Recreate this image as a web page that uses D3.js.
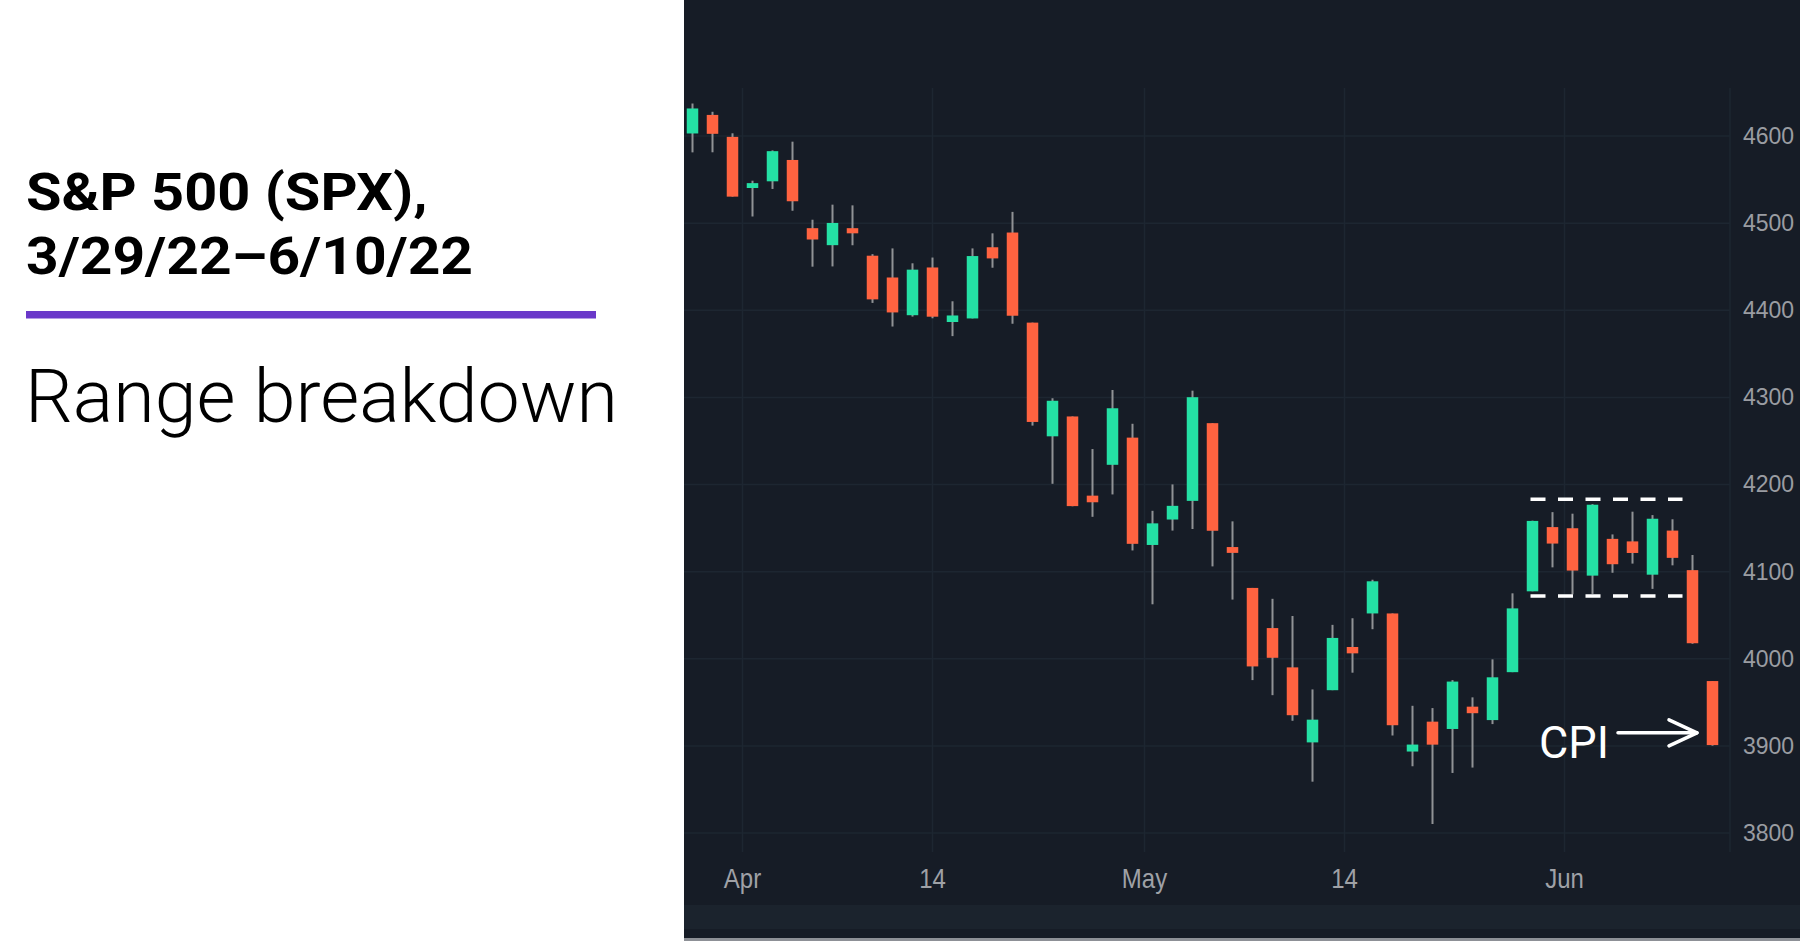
<!DOCTYPE html>
<html>
<head>
<meta charset="utf-8">
<script src="https://cdn.jsdelivr.net/npm/d3@7"></script>
<style>
  html, body { margin: 0; padding: 0; background: #ffffff; }
  svg { display: block; }
</style>
</head>
<body>
<svg id="chart" width="1800" height="941"></svg>
<script>
// ---- data (S&P 500 daily candles, 3/29/22 – 6/10/22) ----
const dates = [
  "2022-03-29","2022-03-30","2022-03-31",
  "2022-04-01","2022-04-04","2022-04-05","2022-04-06","2022-04-07","2022-04-08",
  "2022-04-11","2022-04-12","2022-04-13","2022-04-14","2022-04-18","2022-04-19",
  "2022-04-20","2022-04-21","2022-04-22","2022-04-25","2022-04-26","2022-04-27",
  "2022-04-28","2022-04-29",
  "2022-05-02","2022-05-03","2022-05-04","2022-05-05","2022-05-06","2022-05-09",
  "2022-05-10","2022-05-11","2022-05-12","2022-05-13","2022-05-16","2022-05-17",
  "2022-05-18","2022-05-19","2022-05-20","2022-05-23","2022-05-24","2022-05-25",
  "2022-05-26","2022-05-27","2022-05-31",
  "2022-06-01","2022-06-02","2022-06-03","2022-06-06","2022-06-07","2022-06-08",
  "2022-06-09","2022-06-10"
];
const openP = [
  4602.9, 4624.2, 4599.0,
  4540.3, 4548.0, 4572.5, 4494.2, 4474.7, 4494.2,
  4462.6, 4437.6, 4394.3, 4449.1, 4386.5, 4390.6,
  4472.3, 4489.2, 4385.8, 4255.3, 4278.1, 4187.2,
  4222.6, 4253.8,
  4130.6, 4159.8, 4181.2, 4270.4, 4128.2, 4081.3,
  4035.2, 3990.1, 3904.0, 3963.9, 4013.5, 4052.0,
  4052.0, 3893.5, 3927.8, 3919.4, 3945.0, 3929.6,
  3984.6, 4077.4, 4151.1,
  4149.8, 4095.4, 4137.6, 4134.7, 4096.5, 4147.1,
  4101.7, 3974.4
];
const highP = [
  4637.3, 4627.8, 4603.1,
  4548.7, 4583.5, 4593.5, 4503.9, 4521.2, 4520.4,
  4464.4, 4471.0, 4453.9, 4460.5, 4410.3, 4471.0,
  4488.3, 4512.9, 4385.8, 4299.0, 4278.1, 4240.7,
  4308.5, 4269.7,
  4169.8, 4200.1, 4307.7, 4270.4, 4157.7, 4081.3,
  4068.8, 4049.1, 3964.8, 4038.9, 4046.5, 4090.7,
  4052.0, 3946.0, 3943.4, 3975.5, 3955.7, 3999.3,
  4075.1, 4158.5, 4168.3,
  4166.5, 4177.5, 4142.7, 4168.8, 4164.9, 4160.1,
  4119.1, 3974.4
];
const lowP = [
  4581.2, 4581.3, 4530.4,
  4507.6, 4539.2, 4514.2, 4450.0, 4450.3, 4474.6,
  4408.4, 4381.3, 4392.7, 4390.8, 4370.3, 4390.6,
  4448.8, 4384.5, 4267.6, 4200.8, 4175.0, 4162.9,
  4188.6, 4124.3,
  4062.5, 4147.1, 4148.9, 4106.0, 4067.9, 3975.5,
  3958.2, 3928.8, 3858.9, 3963.9, 3984.0, 4033.9,
  3911.9, 3876.6, 3810.3, 3868.9, 3875.1, 3925.0,
  3984.6, 4077.4, 4104.9,
  4073.9, 4074.4, 4098.7, 4109.2, 4080.2, 4107.2,
  4017.2, 3900.2
];
const closeP = [
  4631.6, 4602.5, 4530.4,
  4545.9, 4582.6, 4525.1, 4481.2, 4500.2, 4488.3,
  4412.5, 4397.5, 4446.6, 4392.6, 4394.0, 4462.2,
  4459.5, 4393.7, 4271.8, 4296.1, 4175.2, 4179.6,
  4287.5, 4131.9,
  4155.4, 4175.5, 4300.2, 4146.9, 4121.5, 3991.2,
  4001.1, 3935.2, 3930.1, 4023.9, 4006.2, 4088.9,
  3923.7, 3901.5, 3901.4, 3973.8, 3937.5, 3978.7,
  4057.8, 4158.2, 4132.2,
  4101.2, 4176.8, 4108.5, 4121.4, 4160.7, 4115.8,
  4017.8, 3900.9
];

// axis ticks
const yTicks = [3800, 3900, 4000, 4100, 4200, 4300, 4400, 4500, 4600];
const xTickLabels = ["Apr", "14", "May", "14", "Jun"];
const xTickAt = [2.5, 12, 22.6, 32.6, 43.6];   // position in bar-index units

// annotations
const rangeTop = 4183, rangeBottom = 4072;
const rangeFrom = 41.9, rangeTo = 49.5;          // bar-index units
const cpiLabel = "CPI";

const titleLines = ["S&P 500 (SPX),", "3/29/22\u20136/10/22"];
const subtitle = "Range breakdown";

// ---- layout ----
const W = 1800, H = 941;
const panelX = 684;
const plot = { left: 684, right: 1730, top: 88, bottom: 852 };
const titleStretch = [1.11, 1.095];

const svg = d3.select("#chart");

// left white area + title
svg.append("rect").attr("x", 0).attr("y", 0).attr("width", panelX).attr("height", H).attr("fill", "#ffffff");

svg.append("g").selectAll("text").data(titleLines).join("text")
  .attr("transform", (d, i) => `translate(26,${210 + i * 64}) scale(${titleStretch[i]},1)`)
  .attr("font-family", "Roboto, 'Noto Sans', sans-serif")
  .attr("font-weight", 700).attr("font-size", 52)
  .attr("fill", "#000000")
  .text(d => d);

svg.append("rect").attr("x", 26).attr("y", 311).attr("width", 570).attr("height", 7.5).attr("fill", "#6a38c9");

svg.append("text")
  .attr("transform", "translate(25,422) scale(1.018,1)")
  .attr("font-family", "Roboto, 'Noto Sans', sans-serif")
  .attr("font-weight", 300).attr("font-size", 74)
  .attr("fill", "#000000")
  .text(subtitle);

// dark chart panel
svg.append("rect").attr("x", panelX).attr("y", 0).attr("width", W - panelX).attr("height", H).attr("fill", "#161c26");
svg.append("rect").attr("x", panelX).attr("y", 905).attr("width", W - panelX).attr("height", 24).attr("fill", "#1b232d");
svg.append("rect").attr("x", panelX).attr("y", 938).attr("width", W - panelX).attr("height", 3).attr("fill", "#8d9096");

// scales
const x = d3.scaleLinear().domain([0, dates.length - 1]).range([692.5, 1712.5]);
const y = d3.scaleLinear().domain([3800, 4600]).range([833, 136]);

// grid
const grid = svg.append("g").attr("stroke", "#1d2631").attr("stroke-width", 1.5);
grid.selectAll("line.h").data(yTicks).join("line").attr("class", "h")
  .attr("x1", plot.left).attr("x2", plot.right)
  .attr("y1", d => y(d)).attr("y2", d => y(d));
grid.selectAll("line.v").data(xTickAt).join("line").attr("class", "v")
  .attr("x1", d => x(d)).attr("x2", d => x(d))
  .attr("y1", plot.top).attr("y2", plot.bottom);
grid.append("line").attr("x1", plot.right).attr("x2", plot.right).attr("y1", plot.top).attr("y2", plot.bottom);

// y axis (right)
const yAxis = d3.axisRight(y).tickValues(yTicks).tickFormat(d3.format("d")).tickSize(0).tickPadding(0);
const gy = svg.append("g").attr("transform", "translate(1743,0)").call(yAxis);
gy.select(".domain").remove();
gy.selectAll("text")
  .attr("font-family", "'Liberation Sans', Arial, sans-serif")
  .attr("font-size", 23)
  .attr("fill", "#9a9ca2")
  .attr("text-anchor", "start");

// x axis labels
svg.append("g").selectAll("text").data(xTickLabels).join("text")
  .attr("transform", (d, i) => `translate(${x(xTickAt[i])},888) scale(1,1.12)`)
  .attr("text-anchor", "middle")
  .attr("font-family", "'Liberation Sans', Arial, sans-serif")
  .attr("font-size", 24)
  .attr("fill", "#9fa1a6")
  .text(d => d);

// candles
const idx = d3.range(dates.length);
const bodyW = 11.5;
const bull = "#24e0a4", bear = "#ff6340";

const candles = svg.append("g");
candles.selectAll("line.wick").data(idx).join("line").attr("class", "wick")
  .attr("x1", i => x(i)).attr("x2", i => x(i))
  .attr("y1", i => y(highP[i])).attr("y2", i => y(lowP[i]))
  .attr("stroke", "#909295").attr("stroke-width", 2);
candles.selectAll("rect.body").data(idx).join("rect").attr("class", "body")
  .attr("x", i => x(i) - bodyW / 2)
  .attr("width", bodyW)
  .attr("y", i => y(Math.max(openP[i], closeP[i])))
  .attr("height", i => Math.max(1.5, Math.abs(y(openP[i]) - y(closeP[i]))))
  .attr("fill", i => closeP[i] >= openP[i] ? bull : bear);

// range box (dashed lines)
const dash = svg.append("g").attr("stroke", "#ffffff").attr("stroke-width", 3.5).attr("stroke-dasharray", "15,12.5");
dash.selectAll("line").data([rangeTop, rangeBottom]).join("line")
  .attr("x1", x(rangeFrom)).attr("x2", x(rangeTo))
  .attr("y1", d => y(d)).attr("y2", d => y(d));

// CPI annotation
const last = dates.length - 1;
const arrowY = y(3915);
const tipX = x(last) - 15.5;
svg.append("text")
  .attr("x", 1539).attr("y", 758)
  .attr("font-family", "Roboto, 'Noto Sans', sans-serif")
  .attr("font-size", 45)
  .attr("fill", "#ffffff")
  .text(cpiLabel);
const arrow = svg.append("g").attr("stroke", "#ffffff").attr("stroke-width", 3.5).attr("fill", "none")
  .attr("stroke-linecap", "round").attr("stroke-linejoin", "round");
arrow.append("line").attr("x1", 1618).attr("x2", tipX).attr("y1", arrowY).attr("y2", arrowY);
arrow.append("path").attr("d", `M${tipX - 28},${arrowY - 13} L${tipX},${arrowY} L${tipX - 28},${arrowY + 13}`);
</script>
</body>
</html>
